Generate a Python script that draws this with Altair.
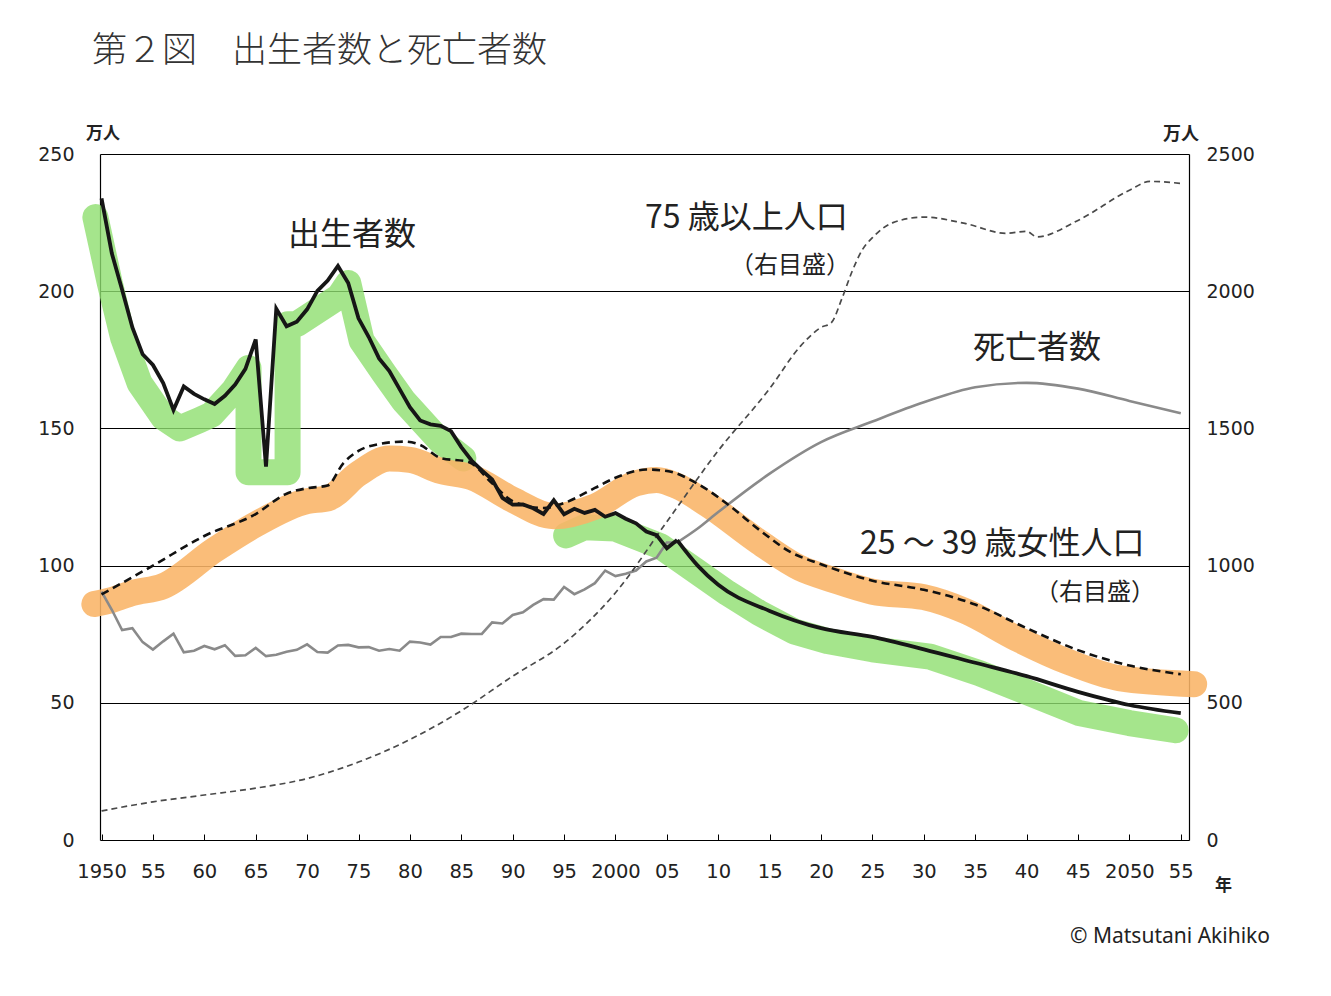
import altair as alt
import pandas as pd

# ---------------- data (万人) ----------------
years_hist = list(range(1950, 2007))
births_hist = [233.8, 213.8, 200.5, 186.8, 177.0, 173.1, 166.5, 156.7, 165.3, 162.6,
               160.6, 158.9, 161.9, 166.0, 171.7, 182.4, 136.1, 193.6, 187.2, 188.9,
               193.4, 200.1, 203.9, 209.2, 203.0, 190.1, 183.3, 175.5, 170.9, 164.3,
               157.7, 152.9, 151.5, 150.9, 149.0, 143.2, 138.3, 134.7, 131.4, 124.7,
               122.2, 122.3, 120.9, 118.8, 123.8, 118.7, 120.7, 119.2, 120.3, 117.8,
               119.1, 117.1, 115.4, 112.4, 111.1, 106.3, 109.3]
deaths_hist = [90.5, 83.9, 76.5, 77.2, 72.1, 69.4, 72.4, 75.2, 68.4, 69.0,
               70.7, 69.5, 71.0, 67.1, 67.3, 70.0, 67.0, 67.5, 68.6, 69.3,
               71.3, 68.5, 68.3, 70.9, 71.1, 70.2, 70.3, 69.0, 69.6, 69.0,
               72.3, 72.0, 71.2, 74.0, 74.0, 75.2, 75.1, 75.1, 79.3, 78.9,
               82.0, 83.0, 85.7, 87.8, 87.6, 92.2, 89.6, 91.3, 93.6, 98.2,
               96.2, 97.0, 98.2, 101.5, 102.9, 108.4, 108.4]

proj_years = [2006, 2008, 2010, 2015, 2020, 2025, 2030, 2035, 2040, 2045, 2050, 2055]
births_proj = [109.3, 100.0, 93.0, 83.5, 77.2, 74.0, 69.5, 64.6, 59.7, 54.0, 49.2, 46.2]
deaths_proj = [108.4, 113.5, 119.5, 133.5, 145.0, 152.5, 159.5, 165.0, 166.6, 164.5, 160.0, 155.5]

# 75歳以上人口 (右目盛, 万人)
old_years = [1950, 1955, 1960, 1965, 1970, 1975, 1980, 1985, 1990, 1995, 2000, 2005,
             2010, 2015, 2018, 2020, 2021, 2022, 2023, 2024, 2025, 2027, 2030, 2034,
             2038, 2040, 2041, 2045, 2050, 2052, 2055]
old_vals = [106, 139, 164, 189, 224, 284, 366, 471, 597, 717, 901, 1160,
            1419, 1645, 1800, 1868, 1885, 1970, 2070, 2150, 2195, 2250, 2270, 2247,
            2211, 2218, 2198, 2258, 2368, 2400, 2393]

# 25～39歳女性人口 (右目盛, 万人)
women_years = [1950, 1955, 1960, 1965, 1968, 1970, 1972, 1973.5, 1975, 1977, 1979.5,
               1981, 1983, 1985.7, 1988, 1990, 1993, 1995, 1998, 2000, 2003, 2005,
               2008, 2011, 2014, 2017, 2020, 2025, 2030, 2035, 2040, 2045, 2050, 2055]
women_vals = [895, 1000, 1108, 1188, 1262, 1282, 1292, 1372, 1418, 1443, 1452,
              1440, 1392, 1378, 1300, 1235, 1210, 1228, 1283, 1320, 1350, 1345,
              1298, 1221, 1130, 1050, 1005, 945, 912, 858, 772, 692, 636, 604]

# hand-drawn green highlighter (left scale)
green_years = [1949.4, 1950.8, 1952.1, 1953.7, 1956.0, 1957.6, 1959.5, 1960.7, 1962.9,
               1964.3, 1964.3, 1968.1, 1968.1, 1969.0, 1973.1, 1974.0, 1975.3, 1977.5,
               1979.4, 1982.8, 1985.2,
               1995.2, 1997.0, 2000.0, 2004.4, 2007.7, 2010.9, 2014.0, 2017.4, 2020.6,
               2025.0, 2030.6, 2035.4, 2040.3, 2045.1, 2050.0, 2054.5]
green_vals = [227, 203, 183, 166.5, 154, 150, 153, 155, 164,
              172, 134, 134, 188, 188, 198, 203, 182, 170,
              160, 146, 139,
              111, 114, 113.5, 107, 98.4, 90, 82.7, 76, 72.5,
              69.5, 66.8, 60.8, 53.5, 46.3, 42.6, 40]
green_segs = [1] * 21 + [2] * 16

# hand-drawn orange highlighter (right scale)
orange_years = [1949.3, 1951.0, 1953.0, 1956.0, 1961.0, 1965.0, 1970.0, 1972.0, 1975.0,
                1978.0, 1980.0, 1983.0, 1986.0, 1990.0, 1994.0, 1998.0, 2002.0, 2004.0,
                2006.0, 2009.0, 2014.0, 2018.0, 2021.0, 2025.0, 2030.0, 2034.0, 2039.0,
                2044.0, 2049.0, 2056.3]
orange_vals = [860, 875, 900, 925, 1057, 1150, 1235, 1245, 1335,
               1390, 1385, 1345, 1322, 1240, 1180, 1215, 1300, 1312,
               1290, 1222, 1085, 990, 950, 905, 885, 835, 735,
               650, 590, 568]

x_ticks = list(range(1950, 2060, 5))
x_labels = ["1950", "55", "60", "65", "70", "75", "80", "85", "90", "95", "2000",
            "05", "10", "15", "20", "25", "30", "35", "40", "45", "2050", "55"]
left_ticks = [0, 50, 100, 150, 200, 250]
right_ticks = [0, 500, 1000, 1500, 2000, 2500]

# ---------------- frames ----------------
births_h_df = pd.DataFrame({"year": years_hist, "v": births_hist})
deaths_h_df = pd.DataFrame({"year": years_hist, "v": deaths_hist})
births_p_df = pd.DataFrame({"year": proj_years, "v": births_proj})
deaths_p_df = pd.DataFrame({"year": proj_years, "v": deaths_proj})
old_df = pd.DataFrame({"year": old_years, "v": old_vals})
women_df = pd.DataFrame({"year": women_years, "v": women_vals})
green_df = pd.DataFrame({"year": green_years, "v": green_vals, "seg": green_segs,
                         "i": list(range(len(green_years)))})
orange_df = pd.DataFrame({"year": orange_years, "v": orange_vals})
one = pd.DataFrame({"k": [0]})

JP = "Noto Sans CJK JP"
NUM = "DejaVu Sans"
INK = "#222222"

x_scale = alt.Scale(domain=[1949.85, 2055.8], nice=False, zero=False)
yl = alt.Scale(domain=[0, 250], nice=False)
yr = alt.Scale(domain=[0, 2500], nice=False)

label_expr = ("[" + ",".join("'%s'" % s for s in x_labels) + "][indexof(["
              + ",".join(str(t) for t in x_ticks) + "], datum.value)]")

x_axis = alt.Axis(values=x_ticks, labelExpr=label_expr, orient="bottom", offset=-6,
                  tickSize=6, tickColor="black", tickWidth=1, domain=False, grid=False,
                  labelPadding=22, labelFont=NUM, labelFontSize=19.5, labelColor=INK,
                  labelAngle=0, labelFlush=False, labelOverlap=False, title=None)
left_axis = alt.Axis(values=left_ticks, orient="left", grid=True, gridColor="black",
                     gridWidth=1, gridOpacity=1, domain=True, domainColor="black",
                     domainWidth=1.2, ticks=False, labelPadding=26, labelFont=NUM,
                     labelFontSize=19, labelColor=INK, format="d", title=None)
right_axis = alt.Axis(values=right_ticks, orient="right", grid=False, domain=True,
                      domainColor="black", domainWidth=1.2, ticks=False, labelPadding=17,
                      labelFont=NUM, labelFontSize=19, labelColor=INK, format="d",
                      title=None)


def X():
    return alt.X("year:Q", scale=x_scale, axis=x_axis)


green = alt.Chart(green_df).mark_line(
    color="#8ede6f", opacity=0.8, strokeWidth=26, strokeCap="round", strokeJoin="round"
).encode(x=X(), y=alt.Y("v:Q", scale=yl, axis=None), detail="seg:N", order="i:Q")

orange = alt.Chart(orange_df).mark_line(
    color="#f9b466", opacity=0.88, strokeWidth=26, strokeCap="round", strokeJoin="round",
    interpolate="monotone"
).encode(x=X(), y=alt.Y("v:Q", scale=yr, axis=None))

deaths_h = alt.Chart(deaths_h_df).mark_line(color="#8a8a8a", strokeWidth=2.6).encode(
    x=X(), y=alt.Y("v:Q", scale=yl, axis=None))
deaths_p = alt.Chart(deaths_p_df).mark_line(color="#8a8a8a", strokeWidth=2.6,
                                           interpolate="monotone").encode(
    x=X(), y=alt.Y("v:Q", scale=yl, axis=None))

old = alt.Chart(old_df).mark_line(color="#4a4a4a", strokeWidth=1.7, strokeDash=[6, 4],
                                  interpolate="monotone").encode(
    x=X(), y=alt.Y("v:Q", scale=yr, axis=right_axis))

women = alt.Chart(women_df).mark_line(color="#111111", strokeWidth=2.6, strokeDash=[8, 5],
                                      interpolate="monotone").encode(
    x=X(), y=alt.Y("v:Q", scale=yr, axis=None))

births_h = alt.Chart(births_h_df).mark_line(color="#161616", strokeWidth=3.8,
                                           strokeJoin="miter").encode(
    x=X(), y=alt.Y("v:Q", scale=yl, axis=left_axis))
births_p = alt.Chart(births_p_df).mark_line(color="#161616", strokeWidth=3.8,
                                           interpolate="monotone").encode(
    x=X(), y=alt.Y("v:Q", scale=yl, axis=None))

L, T = 100, 154


def label(txt, px, py, size, align="left", font=JP, weight="normal", color=INK):
    return alt.Chart(one).mark_text(
        text=txt, fontSize=size, align=align, baseline="alphabetic", font=font,
        fontWeight=weight, color=color
    ).encode(x=alt.value(px - L), y=alt.value(py - T))


texts = [
    label("第２図　出生者数と死亡者数", 92, 62, 35, weight=300, color="#333333"),
    label("万人", 86, 139, 17, weight="bold"),
    label("万人", 1163, 140, 18, weight="bold"),
    label("年", 1215, 891, 17, weight="bold"),
    label("出生者数", 288, 245, 32),
    label("75 歳以上人口", 645, 228, 32),
    label("（右目盛）", 730, 273, 24),
    label("死亡者数", 973, 358, 32),
    label("25 ～ 39 歳女性人口", 860, 554, 32),
    label("（右目盛）", 1035, 600, 24),
    label("© Matsutani Akihiko", 1270, 943, 21, align="right", font="Noto Sans"),
]

chart = alt.layer(
    green, orange, deaths_h, deaths_p, old, women, births_h, births_p, *texts
).resolve_scale(y="independent").properties(
    width=1089, height=686,
    autosize=alt.AutoSizeParams(type="none"),
    padding={"left": L, "top": T, "right": 1331 - L - 1089, "bottom": 996 - T - 686},
    background="white",
).configure_view(stroke=None)

chart.save("out.html", embed_options={"renderer": "svg", "actions": False})
